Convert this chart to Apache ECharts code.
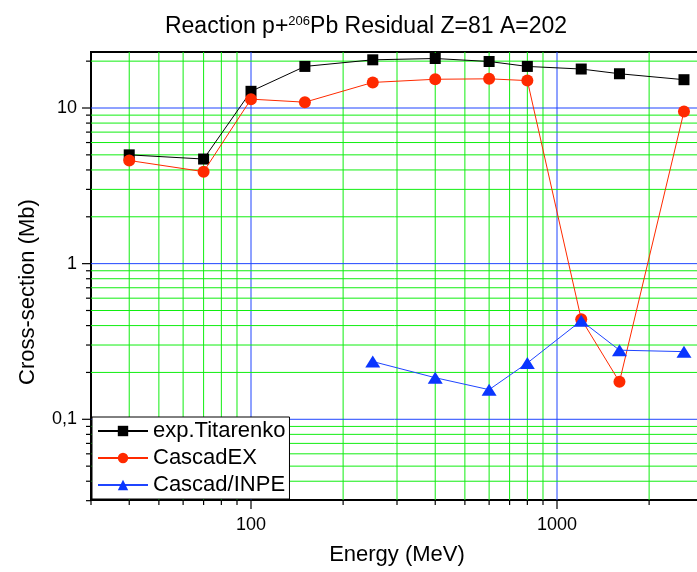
<!DOCTYPE html>
<html>
<head>
<meta charset="utf-8">
<script src="https://cdn.jsdelivr.net/npm/echarts@6/dist/echarts.min.js"></script>
<style>
  html, body { margin: 0; padding: 0; background: #fff; }
  #chart { width: 697px; height: 572px; }
</style>
</head>
<body>
<div id="chart"></div>
<script>
// Measured cross-sections (Mb) vs proton energy (MeV)
const energies = [40, 70, 100, 150, 250, 400, 600, 800, 1200, 1600, 2600];
const expTitarenko = [5.0, 4.7, 12.8, 18.5, 20.4, 20.8, 19.9, 18.5, 17.8, 16.6, 15.2];
const cascadEX = [4.6, 3.9, 11.4, 10.9, 14.6, 15.3, 15.4, 15.0, 0.44, 0.174, 9.5];
const inpeEnergies = [250, 400, 600, 800, 1200, 1600, 2600];
const cascadINPE = [0.235, 0.185, 0.155, 0.23, 0.43, 0.278, 0.272];

// Decade / sub-decade grid positions
const xMajorGrid = [100, 1000];
const xMinorGrid = [40, 50, 60, 70, 80, 90, 200, 300, 400, 500, 600, 700, 800, 900, 2000];
const xEdgeTicks = [30];
const yMajorGrid = [0.1, 1, 10];
const yMinorGrid = [0.04, 0.05, 0.06, 0.07, 0.08, 0.09,
                    0.2, 0.3, 0.4, 0.5, 0.6, 0.7, 0.8, 0.9,
                    2, 3, 4, 5, 6, 7, 8, 9, 20];
const yEdgeTicks = [0.03];

const X_MIN = 30, X_MAX = 3000;
const Y_MIN = 0.0303, Y_MAX = 22.9;

const GREEN = '#10ee10';
const BLUE = '#1f45ff';
const FONT = 'Liberation Sans';

// [x, y, axis (0 = x, 1 = y), major flag, draw grid line flag]
const gridData = [];
xMajorGrid.forEach(v => gridData.push([v, 1, 0, 1, 1]));
xMinorGrid.forEach(v => gridData.push([v, 1, 0, 0, 1]));
xEdgeTicks.forEach(v => gridData.push([v, 1, 0, 0, 0]));
yMajorGrid.forEach(v => gridData.push([100, v, 1, 1, 1]));
yMinorGrid.forEach(v => gridData.push([100, v, 1, 0, 1]));
yEdgeTicks.forEach(v => gridData.push([100, v, 1, 0, 0]));

function renderGrid(params, api) {
  const cs = params.coordSys;
  const axis = api.value(2);
  const major = api.value(3) === 1;
  const withLine = api.value(4) === 1;
  const color = major ? BLUE : GREEN;
  const tickLen = major ? 9 : 5;
  const children = [];
  if (axis === 0) {
    const px = api.coord([api.value(0), 1])[0];
    const bottom = cs.y + cs.height;
    if (withLine) {
      children.push({ type: 'line', shape: { x1: px, y1: cs.y, x2: px, y2: bottom },
                      style: { stroke: color, lineWidth: 1 } });
    }
    children.push({ type: 'line', shape: { x1: px, y1: bottom, x2: px, y2: bottom + tickLen },
                    style: { stroke: '#000', lineWidth: 1.2 } });
  } else {
    const py = api.coord([100, api.value(1)])[1];
    if (withLine) {
      children.push({ type: 'line', shape: { x1: cs.x, y1: py, x2: cs.x + cs.width, y2: py },
                      style: { stroke: color, lineWidth: 1 } });
    }
    children.push({ type: 'line', shape: { x1: cs.x - tickLen, y1: py, x2: cs.x, y2: py },
                    style: { stroke: '#000', lineWidth: 1.2 } });
  }
  return { type: 'group', children: children };
}

function isDecade(v) {
  const l = Math.log10(v);
  return Math.abs(l - Math.round(l)) < 1e-6;
}

const chart = echarts.init(document.getElementById('chart'), null, { renderer: 'canvas' });

chart.setOption({
  animation: false,
  backgroundColor: '#fff',
  graphic: [
    {
      type: 'text',
      x: 366, y: 27,
      style: {
        text: '{n|Reaction p+}{s|206}{n|Pb Residual Z=81 A=202}',
        textAlign: 'center',
        textVerticalAlign: 'middle',
        fill: '#000',
        rich: {
          n: { fontFamily: FONT, fontSize: 23, lineHeight: 24, fill: '#000' },
          s: { fontFamily: FONT, fontSize: 13, lineHeight: 24, verticalAlign: 'top', fill: '#000' }
        }
      }
    },
    {
      type: 'text',
      x: 28, y: 292,
      rotation: Math.PI / 2,
      style: {
        text: 'Cross-section (Mb)',
        textAlign: 'center',
        textVerticalAlign: 'middle',
        font: '22px "Liberation Sans"',
        fill: '#000'
      }
    }
  ],
  grid: {
    left: 91, top: 52, width: 612, height: 448,
    containLabel: false,
    outerBoundsMode: 'none',
    show: true, borderColor: '#000', borderWidth: 2, backgroundColor: 'transparent'
  },
  legend: {
    orient: 'vertical',
    left: 92, top: 417,
    data: ['exp.Titarenko', 'CascadEX', 'Cascad/INPE'],
    backgroundColor: '#fff',
    borderColor: '#000',
    borderWidth: 1,
    borderRadius: 0,
    padding: [3, 4, 3, 5],
    itemGap: 5,
    itemWidth: 50,
    itemHeight: 13,
    textStyle: { fontFamily: FONT, fontSize: 22, lineHeight: 22, color: '#000' },
    z: 10
  },
  xAxis: {
    type: 'log',
    logBase: 10,
    min: X_MIN, max: X_MAX,
    name: 'Energy (MeV)',
    nameLocation: 'middle',
    nameGap: 44,
    nameTextStyle: { fontFamily: FONT, fontSize: 22, color: '#000' },
    axisLine: { show: true, lineStyle: { color: '#000', width: 2 } },
    axisTick: { show: false },
    splitLine: { show: false },
    axisLabel: {
      margin: 16,
      fontFamily: FONT, fontSize: 18, color: '#000',
      formatter: v => isDecade(v) ? String(Math.round(v)) : ''
    }
  },
  yAxis: {
    type: 'log',
    logBase: 10,
    min: Y_MIN, max: Y_MAX,
    axisLine: { show: true, lineStyle: { color: '#000', width: 2 } },
    axisTick: { show: false },
    splitLine: { show: false },
    axisLabel: {
      margin: 14,
      fontFamily: FONT, fontSize: 18, color: '#000',
      formatter: v => isDecade(v) ? String(+v.toPrecision(6)).replace('.', ',') : ''
    }
  },
  series: [
    {
      type: 'custom',
      name: 'gridlines',
      renderItem: renderGrid,
      data: gridData,
      silent: true,
      clip: false,
      z: 1,
      legendHoverLink: false
    },
    {
      name: 'exp.Titarenko',
      type: 'line',
      data: energies.map((e, i) => [e, expTitarenko[i]]),
      symbol: 'rect',
      symbolSize: 11,
      itemStyle: { color: '#000' },
      lineStyle: { color: '#000', width: 1 },
      z: 3
    },
    {
      name: 'CascadEX',
      type: 'line',
      data: energies.map((e, i) => [e, cascadEX[i]]),
      symbol: 'circle',
      symbolSize: 12,
      itemStyle: { color: '#ff2a00' },
      lineStyle: { color: '#ff2a00', width: 1 },
      z: 4
    },
    {
      name: 'Cascad/INPE',
      type: 'line',
      data: inpeEnergies.map((e, i) => [e, cascadINPE[i]]),
      symbol: 'triangle',
      symbolSize: [15, 12],
      itemStyle: { color: '#0a36ff' },
      lineStyle: { color: '#1f45ff', width: 1 },
      z: 5
    }
  ]
});
</script>
</body>
</html>
